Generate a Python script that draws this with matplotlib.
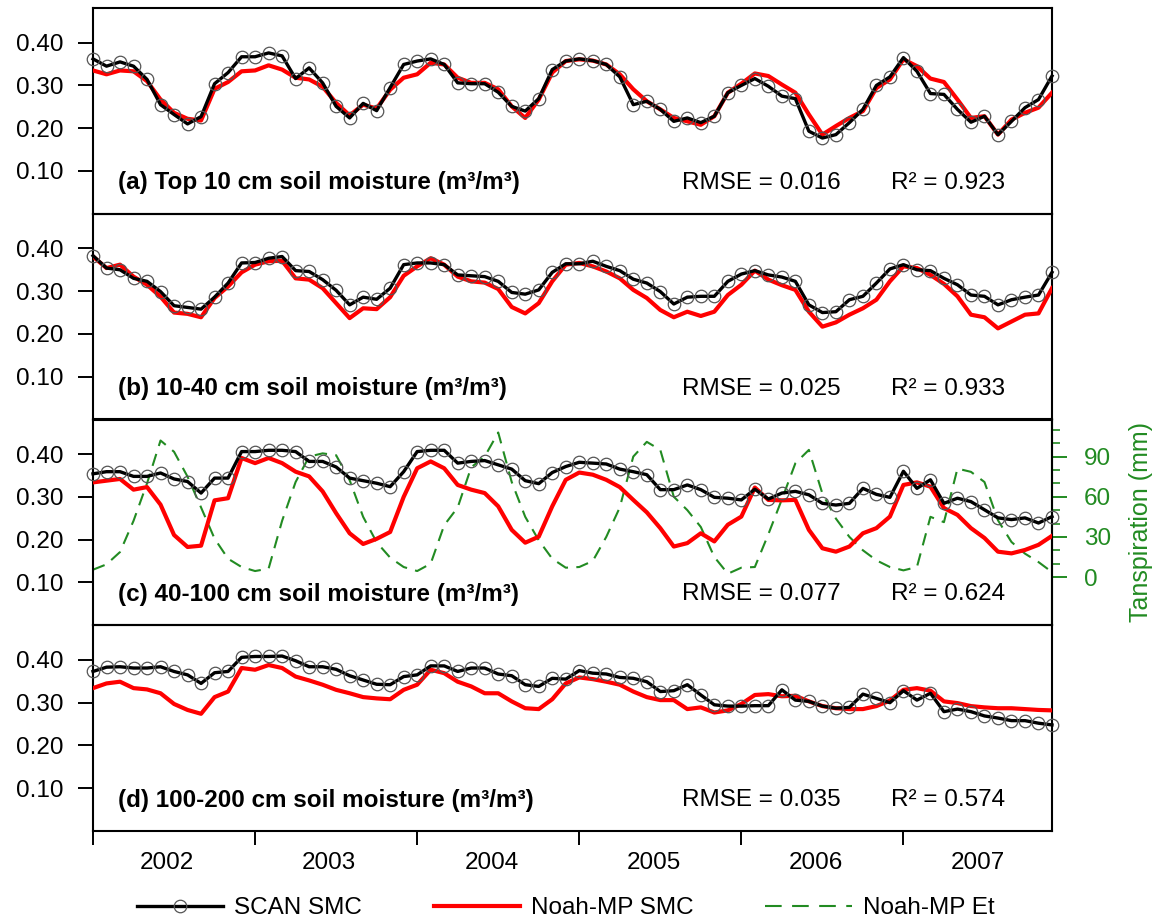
import numpy as np
import matplotlib
matplotlib.use("Agg")
import matplotlib.pyplot as plt
from matplotlib.ticker import FixedLocator

plt.rcParams['font.family'] = ['Liberation Sans', 'DejaVu Sans']

# ------------ data (monthly, Jan 2002 - Dec 2007) ------------ #

years = ["2002", "2003", "2004", "2005", "2006", "2007"]

scan_a = [0.362, 0.345, 0.355, 0.345, 0.314, 0.255, 0.232, 0.210, 0.227, 0.304, 0.330, 0.367,
          0.367, 0.376, 0.369, 0.316, 0.341, 0.306, 0.251, 0.224, 0.258, 0.241, 0.295, 0.349,
          0.357, 0.362, 0.349, 0.306, 0.304, 0.304, 0.284, 0.251, 0.240, 0.269, 0.337, 0.357,
          0.362, 0.358, 0.349, 0.320, 0.255, 0.263, 0.244, 0.216, 0.224, 0.213, 0.228, 0.283,
          0.300, 0.316, 0.298, 0.275, 0.269, 0.193, 0.177, 0.185, 0.213, 0.244, 0.300, 0.320,
          0.365, 0.333, 0.281, 0.279, 0.244, 0.214, 0.228, 0.185, 0.216, 0.248, 0.267, 0.322]
noah_a = [0.335, 0.326, 0.335, 0.333, 0.310, 0.267, 0.236, 0.222, 0.218, 0.292, 0.308, 0.333,
          0.335, 0.347, 0.337, 0.318, 0.314, 0.297, 0.259, 0.230, 0.255, 0.246, 0.290, 0.318,
          0.326, 0.353, 0.349, 0.318, 0.306, 0.306, 0.291, 0.251, 0.224, 0.267, 0.330, 0.357,
          0.361, 0.358, 0.349, 0.326, 0.291, 0.263, 0.244, 0.224, 0.216, 0.208, 0.228, 0.283,
          0.304, 0.328, 0.322, 0.302, 0.283, 0.232, 0.185, 0.205, 0.224, 0.240, 0.294, 0.314,
          0.361, 0.345, 0.316, 0.308, 0.267, 0.224, 0.228, 0.185, 0.220, 0.236, 0.248, 0.283]

scan_b = [0.383, 0.354, 0.350, 0.330, 0.323, 0.299, 0.266, 0.262, 0.258, 0.286, 0.319, 0.366,
          0.367, 0.377, 0.381, 0.348, 0.346, 0.327, 0.302, 0.268, 0.286, 0.281, 0.307, 0.362,
          0.366, 0.366, 0.362, 0.338, 0.336, 0.334, 0.323, 0.297, 0.293, 0.303, 0.344, 0.364,
          0.364, 0.370, 0.358, 0.348, 0.328, 0.319, 0.299, 0.270, 0.286, 0.288, 0.288, 0.323,
          0.340, 0.348, 0.338, 0.333, 0.323, 0.268, 0.250, 0.252, 0.280, 0.288, 0.319, 0.352,
          0.362, 0.350, 0.348, 0.330, 0.315, 0.291, 0.288, 0.268, 0.280, 0.286, 0.291, 0.344]
noah_b = [0.381, 0.354, 0.362, 0.334, 0.315, 0.287, 0.250, 0.247, 0.239, 0.284, 0.311, 0.344,
          0.362, 0.370, 0.371, 0.330, 0.327, 0.307, 0.272, 0.237, 0.260, 0.258, 0.286, 0.336,
          0.358, 0.377, 0.362, 0.334, 0.323, 0.320, 0.305, 0.263, 0.248, 0.272, 0.323, 0.362,
          0.366, 0.358, 0.346, 0.330, 0.303, 0.284, 0.256, 0.239, 0.252, 0.242, 0.252, 0.291,
          0.315, 0.348, 0.327, 0.314, 0.303, 0.252, 0.217, 0.227, 0.245, 0.260, 0.280, 0.323,
          0.358, 0.354, 0.338, 0.317, 0.288, 0.245, 0.239, 0.213, 0.229, 0.245, 0.248, 0.307]

scan_c = [0.354, 0.359, 0.359, 0.348, 0.348, 0.356, 0.342, 0.336, 0.309, 0.344, 0.344, 0.406,
          0.406, 0.409, 0.409, 0.406, 0.383, 0.383, 0.370, 0.344, 0.338, 0.332, 0.324, 0.359,
          0.406, 0.409, 0.409, 0.379, 0.383, 0.385, 0.375, 0.365, 0.338, 0.331, 0.357, 0.371,
          0.381, 0.379, 0.377, 0.365, 0.359, 0.352, 0.317, 0.317, 0.328, 0.317, 0.299, 0.297,
          0.293, 0.318, 0.295, 0.309, 0.313, 0.305, 0.285, 0.281, 0.285, 0.320, 0.306, 0.299,
          0.360, 0.320, 0.340, 0.285, 0.297, 0.289, 0.270, 0.251, 0.247, 0.251, 0.239, 0.254]
noah_c = [0.334, 0.338, 0.342, 0.317, 0.323, 0.282, 0.211, 0.183, 0.186, 0.292, 0.297, 0.391,
          0.379, 0.391, 0.379, 0.359, 0.348, 0.313, 0.262, 0.215, 0.190, 0.202, 0.218, 0.300,
          0.367, 0.383, 0.367, 0.328, 0.317, 0.309, 0.278, 0.223, 0.193, 0.207, 0.278, 0.340,
          0.357, 0.352, 0.340, 0.323, 0.293, 0.264, 0.227, 0.184, 0.192, 0.215, 0.196, 0.235,
          0.254, 0.322, 0.293, 0.292, 0.293, 0.223, 0.180, 0.172, 0.184, 0.215, 0.227, 0.254,
          0.328, 0.334, 0.324, 0.274, 0.258, 0.227, 0.204, 0.172, 0.168, 0.176, 0.188, 0.209]
et_c = [5.5, 9.5, 18.7, 42, 70, 102, 93.6, 75, 52, 28.7, 13.7, 7.5,
        4.5, 6.3, 42, 71, 90, 92.4, 91, 72.4, 45, 26, 14.5, 7.5,
        4.5, 10, 38.7, 52, 82, 90, 108, 71, 45, 27.5, 13.7, 7,
        7.5, 12, 30, 52, 90, 101, 95, 60, 50, 37.4, 15, 2.5,
        7, 7.5, 32, 58, 85, 95, 62.4, 43.7, 30, 20, 12.5, 7.5,
        5, 7.5, 45, 41, 81, 78.6, 71, 42.4, 26.2, 17.5, 11.2, 3.7]

scan_d = [0.373, 0.383, 0.384, 0.381, 0.381, 0.384, 0.373, 0.365, 0.345, 0.370, 0.373, 0.406,
          0.408, 0.408, 0.409, 0.398, 0.384, 0.384, 0.378, 0.363, 0.353, 0.343, 0.342, 0.361,
          0.365, 0.386, 0.386, 0.373, 0.381, 0.381, 0.367, 0.363, 0.342, 0.338, 0.357, 0.355,
          0.375, 0.369, 0.367, 0.359, 0.357, 0.349, 0.326, 0.328, 0.342, 0.318, 0.295, 0.292,
          0.292, 0.293, 0.293, 0.330, 0.306, 0.303, 0.292, 0.287, 0.289, 0.320, 0.310, 0.300,
          0.328, 0.306, 0.322, 0.279, 0.285, 0.279, 0.269, 0.264, 0.258, 0.258, 0.252, 0.248]
noah_d = [0.334, 0.345, 0.349, 0.334, 0.331, 0.322, 0.297, 0.283, 0.274, 0.313, 0.326, 0.381,
          0.377, 0.388, 0.381, 0.361, 0.352, 0.342, 0.330, 0.322, 0.313, 0.310, 0.308, 0.330,
          0.342, 0.377, 0.369, 0.349, 0.338, 0.322, 0.322, 0.303, 0.287, 0.285, 0.308, 0.345,
          0.359, 0.355, 0.349, 0.342, 0.326, 0.313, 0.306, 0.306, 0.285, 0.289, 0.277, 0.282,
          0.297, 0.318, 0.320, 0.315, 0.316, 0.303, 0.292, 0.287, 0.285, 0.285, 0.292, 0.305,
          0.330, 0.334, 0.328, 0.303, 0.299, 0.292, 0.289, 0.287, 0.287, 0.285, 0.283, 0.282]

titles = ["(a) Top 10 cm soil moisture (m³/m³)",
          "(b) 10-40 cm soil moisture (m³/m³)",
          "(c) 40-100 cm soil moisture (m³/m³)",
          "(d) 100-200 cm soil moisture (m³/m³)"]
rmse = ["0.016", "0.025", "0.077", "0.035"]
r2 = ["0.923", "0.933", "0.624", "0.574"]

scan = [scan_a, scan_b, scan_c, scan_d]
noah = [noah_a, noah_b, noah_c, noah_d]

# ------------ Plot ------------ #

FS = 17.5
green = "#228b22"
dash = (0, (6, 4))
months = np.arange(72)

fig = plt.figure(figsize=(11.59, 9.23), dpi=100)
W, H = 1159.0, 923.0
top_px = 8.0
ph = 205.75

for k in range(4):
    bottom = 1 - (top_px + ph * (k + 1)) / H
    ax = fig.add_axes([93 / W, bottom, 959 / W, ph / H])
    ax.patch.set_visible(False)

    if k == 2:
        ax2 = ax.twinx()
        ax2.plot(months, et_c, color=green, lw=1.5, ls=dash)
        ax2.set_ylim(-36, 117.7)
        ax2.set_yticks([0, 30, 60, 90])
        ax2.yaxis.set_minor_locator(FixedLocator([10, 20, 40, 50, 70, 80, 100, 110]))
        ax2.tick_params(axis='y', which='major', direction='out', length=11, width=1.4,
                        colors=green, labelsize=FS, pad=12)
        ax2.tick_params(axis='y', which='minor', direction='out', length=6, width=1.2,
                        colors=green)
        ax2.set_ylabel("Tanspiration (mm)", color=green, fontsize=FS + 0.5, labelpad=13)
        for s in ax2.spines.values():
            s.set_visible(False)
        ax2.spines['right'].set_visible(True)
        ax2.spines['right'].set_color(green)
        ax2.spines['right'].set_linewidth(1.5)
        ax2.set_zorder(ax.get_zorder() - 1)

    ax.plot(months, noah[k], color="#ff0000", lw=3.0, zorder=3)
    ax.plot(months, scan[k], color="black", lw=2.4, marker="o", ms=9, mfc="none",
            mec="#555555", mew=0.9, clip_on=False, zorder=4)

    ax.set_xlim(0, 71)
    ax.set_ylim(0, 0.481)
    ax.set_yticks([0.10, 0.20, 0.30, 0.40])
    ax.set_yticklabels(["0.10", "0.20", "0.30", "0.40"])
    ax.tick_params(axis='y', direction='out', length=11, width=1.4, labelsize=FS, pad=10)
    for s in ax.spines.values():
        s.set_linewidth(1.5)

    if k == 3:
        ax.set_xticks([0, 12, 24, 36, 48, 60])
        ax.set_xticklabels([])
        ax.set_xticks(np.arange(6) * 12 + 5.5, minor=True)
        ax.set_xticklabels(years, minor=True)
        ax.tick_params(axis='x', which='major', direction='out', length=10, width=1.4)
        ax.tick_params(axis='x', which='minor', length=0, labelsize=FS, pad=15)
    else:
        ax.set_xticks([])

    ax.text(0.026, 0.15, titles[k], transform=ax.transAxes, fontsize=FS,
            fontweight='bold', va='center', ha='left')
    ax.text(0.614, 0.15, "RMSE = " + rmse[k], transform=ax.transAxes, fontsize=FS,
            va='center', ha='left')
    ax.text(0.832, 0.15, "R² = " + r2[k], transform=ax.transAxes, fontsize=FS,
            va='center', ha='left')

# legend
h1, = plt.plot([], [], color="black", lw=2.4, marker="o", ms=9, mfc="none",
               mec="#555555", mew=0.9)
h2, = plt.plot([], [], color="#ff0000", lw=3.0)
h3, = plt.plot([], [], color=green, lw=1.5, ls=(0, (8, 5)))
fig.legend([h1, h2, h3], ["SCAN SMC", "Noah-MP SMC", "Noah-MP Et"], ncol=3,
           loc='center', bbox_to_anchor=(0.488, 1 - 908 / H), frameon=False,
           fontsize=FS, handlelength=3.55, handletextpad=0.45, columnspacing=2.95,
           markerfirst=True)

fig.savefig("out.png", dpi=100)
